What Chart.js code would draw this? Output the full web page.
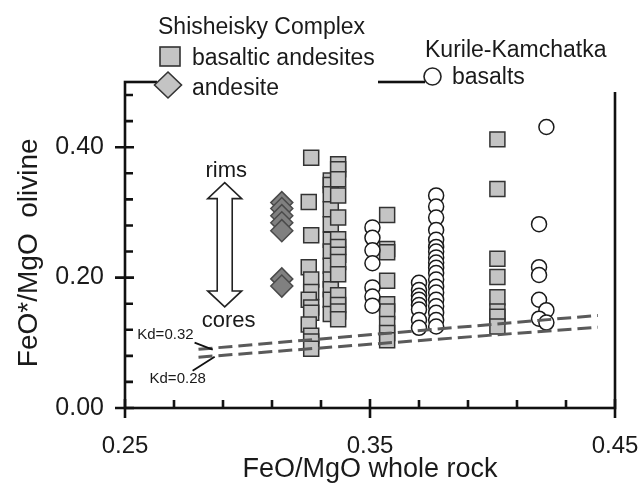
<!DOCTYPE html>
<html><head><meta charset="utf-8">
<script src="https://cdn.jsdelivr.net/npm/chart.js@4/dist/chart.umd.min.js"></script>
<style>html,body{margin:0;padding:0;background:#fff;}#wrap{width:638px;height:491px;}</style>
</head><body><div id="wrap"><canvas id="c" width="638" height="491"></canvas></div>
<script>
// ---- data ----
const xTickLabels = [0.25, 0.35, 0.45];
const yTickLabels = [0.00, 0.20, 0.40];
const xMinorTicks = [0.27, 0.29, 0.31, 0.33, 0.37, 0.39, 0.41, 0.43];
const yMinorTicks = [0.04, 0.08, 0.12, 0.16, 0.24, 0.28, 0.32, 0.36, 0.44, 0.48];

// Shisheisky Complex – basaltic andesites (squares)
const basAndX = [0.326,0.325,0.326,0.325,0.326,0.326,0.325,0.326,0.326,0.325,0.326,0.326,0.326,
                 0.334,0.334,0.334,0.334,0.334,0.334,0.334,0.334,0.334,0.334,0.334,0.334,
                 0.337,0.337,0.337,0.337,0.337,0.337,0.337,0.337,0.337,0.337,0.337,0.337,0.337,0.337,
                 0.357,0.357,0.357,0.357,0.357,0.357,0.357,0.357,0.357,
                 0.402,0.402,0.402,0.402,0.402,0.402,0.402,0.402];
const basAndY = [0.384,0.316,0.265,0.216,0.197,0.178,0.166,0.154,0.146,0.128,0.111,0.102,0.091,
                 0.349,0.342,0.328,0.305,0.282,0.258,0.240,0.218,0.197,0.182,0.166,0.144,
                 0.374,0.366,0.351,0.326,0.292,0.259,0.247,0.235,0.224,0.205,0.173,0.158,0.148,0.136,
                 0.296,0.244,0.239,0.195,0.159,0.148,0.129,0.115,0.104,
                 0.412,0.336,0.229,0.201,0.170,0.148,0.140,0.125];
// Shisheisky Complex – andesite (diamonds)
const andX = [0.314,0.314,0.314,0.314,0.314,0.314,0.314];
const andY = [0.315,0.306,0.295,0.284,0.272,0.198,0.187];
// Kurile-Kamchatka basalts (circles)
const basX = [0.351,0.351,0.351,0.351,0.351,0.351,0.351,
              0.370,0.370,0.370,0.370,0.370,0.370,0.370,0.370,
              0.377,0.377,0.377,0.377,0.377,0.377,0.377,0.377,0.377,0.377,0.377,0.377,0.377,0.377,0.377,0.377,0.377,0.377,0.377,
              0.422,0.419,0.419,0.419,0.419,0.422,0.419,0.422];
const basY = [0.277,0.261,0.242,0.222,0.185,0.171,0.157,
              0.192,0.181,0.172,0.166,0.158,0.151,0.135,0.123,
              0.326,0.309,0.292,0.273,0.258,0.247,0.240,0.231,0.223,0.215,0.207,0.197,0.186,0.177,0.166,0.156,0.146,0.135,0.125,
              0.431,0.282,0.216,0.204,0.166,0.150,0.137,0.131];
// Kd reference lines (endpoints)
const kd032X = [0.280, 0.443], kd032Y = [0.090, 0.142];
const kd028X = [0.280, 0.443], kd028Y = [0.078, 0.124];

const FONT = "'Liberation Sans', Arial, sans-serif";
const pts = (xs, ys) => xs.map((x, i) => ({x, y: ys[i]}));
const noPad = s => { s.paddingLeft = 0; s.paddingRight = 0; s.paddingTop = 0; s.paddingBottom = 0; };

const overlay = {
  id: 'overlay',
  afterDatasetsDraw(chart) {
    const ctx = chart.ctx, xs = chart.scales.x, ys = chart.scales.y, a = chart.chartArea;
    const X = v => xs.getPixelForValue(v), Y = v => ys.getPixelForValue(v);
    ctx.save();
    ctx.strokeStyle = '#111'; ctx.lineWidth = 2.6; ctx.lineCap = 'butt';
    ctx.strokeRect(a.left, a.top, a.right - a.left, a.bottom - a.top);
    ctx.beginPath();
    yMinorTicks.forEach(v => { ctx.moveTo(a.left, Y(v)); ctx.lineTo(a.left + 8, Y(v)); });
    yTickLabels.forEach(v => { ctx.moveTo(a.left - 10, Y(v)); ctx.lineTo(a.left + 9, Y(v)); });
    xMinorTicks.forEach(v => { ctx.moveTo(X(v), a.bottom); ctx.lineTo(X(v), a.bottom - 8); });
    xTickLabels.forEach(v => { ctx.moveTo(X(v), a.bottom + 10); ctx.lineTo(X(v), a.bottom - 9); });
    ctx.stroke();

    // legend boxes (white) over frame
    ctx.fillStyle = '#fff';
    ctx.fillRect(157, 0, 221, 90);
    ctx.fillRect(425, 28, 205, 64);
    ctx.fillStyle = '#1a1a1a';
    ctx.font = '23px ' + FONT; ctx.textBaseline = 'alphabetic'; ctx.textAlign = 'left';
    ctx.fillText('Shisheisky Complex', 158, 34);
    ctx.fillText('basaltic andesites', 192, 65);
    ctx.fillText('andesite', 192, 95);
    ctx.fillText('Kurile-Kamchatka', 425, 57);
    ctx.fillText('basalts', 452, 84);
    ctx.lineWidth = 1.6; ctx.strokeStyle = '#333';
    ctx.fillStyle = '#c4c4c4';
    ctx.fillRect(160, 47, 20, 19); ctx.strokeRect(160, 47, 20, 19);
    ctx.beginPath(); ctx.moveTo(168, 72); ctx.lineTo(181.5, 85); ctx.lineTo(168, 98); ctx.lineTo(154.5, 85); ctx.closePath();
    ctx.fill(); ctx.stroke();
    ctx.fillStyle = '#fff'; ctx.strokeStyle = '#222';
    ctx.beginPath(); ctx.arc(432.5, 76.5, 8.5, 0, Math.PI * 2); ctx.fill(); ctx.stroke();

    // double arrow rims/cores
    const ax = X(0.2907), at = Y(0.3456), ab = Y(0.155);
    const hw = 17, hh = 16, sw = 7.5;
    ctx.beginPath();
    ctx.moveTo(ax, at); ctx.lineTo(ax + hw, at + hh); ctx.lineTo(ax + sw, at + hh);
    ctx.lineTo(ax + sw, ab - hh); ctx.lineTo(ax + hw, ab - hh); ctx.lineTo(ax, ab);
    ctx.lineTo(ax - hw, ab - hh); ctx.lineTo(ax - sw, ab - hh); ctx.lineTo(ax - sw, at + hh);
    ctx.lineTo(ax - hw, at + hh); ctx.closePath();
    ctx.fillStyle = '#fff'; ctx.fill(); ctx.lineWidth = 1.6; ctx.strokeStyle = '#222'; ctx.stroke();
    ctx.fillStyle = '#1a1a1a'; ctx.textAlign = 'center'; ctx.textBaseline = 'middle';
    ctx.font = '22px ' + FONT;
    ctx.fillText('rims', X(0.2913), Y(0.364));
    ctx.fillText('cores', X(0.2923), Y(0.134));
    ctx.font = '15px ' + FONT;
    ctx.fillText('Kd=0.32', X(0.2665), Y(0.1124));
    ctx.fillText('Kd=0.28', X(0.2715), Y(0.045));
    ctx.beginPath(); ctx.lineWidth = 1.8; ctx.strokeStyle = '#111';
    ctx.moveTo(X(0.2784), Y(0.1002)); ctx.lineTo(X(0.2858), Y(0.0894));
    ctx.moveTo(X(0.2776), Y(0.0573)); ctx.lineTo(X(0.2866), Y(0.0787));
    ctx.stroke();
    ctx.restore();
  }
};

new Chart(document.getElementById('c'), {
  type: 'scatter',
  data: {
    datasets: [
      {type: 'line', label: 'Kd=0.32', data: pts(kd032X, kd032Y), borderColor: '#5a5a5a', borderWidth: 3,
       borderDash: [14, 6], pointRadius: 0, fill: false},
      {type: 'line', label: 'Kd=0.28', data: pts(kd028X, kd028Y), borderColor: '#5a5a5a', borderWidth: 3,
       borderDash: [14, 6], pointRadius: 0, fill: false},
      {label: 'basalts', data: pts(basX, basY), pointStyle: 'circle', pointRadius: 7.5,
       backgroundColor: '#fff', borderColor: '#1a1a1a', borderWidth: 1.5},
      {label: 'andesite', data: pts(andX, andY), pointStyle: 'rectRot', pointRadius: 11,
       backgroundColor: '#808080', borderColor: '#4a4a4a', borderWidth: 1.5},
      {label: 'basaltic andesites', data: pts(basAndX, basAndY), pointStyle: 'rect', pointRadius: 10.6,
       backgroundColor: '#c4c4c4', borderColor: '#333', borderWidth: 1.5}
    ]
  },
  options: {
    responsive: false, animation: false, devicePixelRatio: 1,
    layout: {padding: {left: 0, right: 23, top: 82, bottom: 0}},
    plugins: {legend: {display: false}, tooltip: {enabled: false}},
    scales: {
      x: {type: 'linear', min: 0.25, max: 0.45,
          afterFit(s) { s.height = 83; noPad(s); },
          border: {display: false}, grid: {display: false},
          ticks: {stepSize: 0.1, padding: 16, maxRotation: 0, autoSkip: false, color: '#1a1a1a',
                  font: {family: FONT, size: 24},
                  callback: v => xTickLabels.some(l => Math.abs(l - v) < 1e-9) ? v.toFixed(2) : ''},
          title: {display: true, text: 'FeO/MgO whole rock', color: '#1a1a1a',
                  font: {family: FONT, size: 27}, padding: {top: 0, bottom: 5}}},
      y: {type: 'linear', min: 0, max: 0.5,
          afterFit(s) { s.width = 125; noPad(s); },
          border: {display: false}, grid: {display: false},
          ticks: {stepSize: 0.2, includeBounds: false, padding: 13, color: '#1a1a1a',
                  font: {family: FONT, size: 25},
                  callback: v => yTickLabels.some(l => Math.abs(l - v) < 1e-9) ? v.toFixed(2) : ''},
          title: {display: true, text: 'FeO*/MgO  olivine  ', color: '#1a1a1a',
                  font: {family: FONT, size: 28}, padding: {top: 12, bottom: 0}}}
    }
  },
  plugins: [overlay]
});
</script></body></html>
